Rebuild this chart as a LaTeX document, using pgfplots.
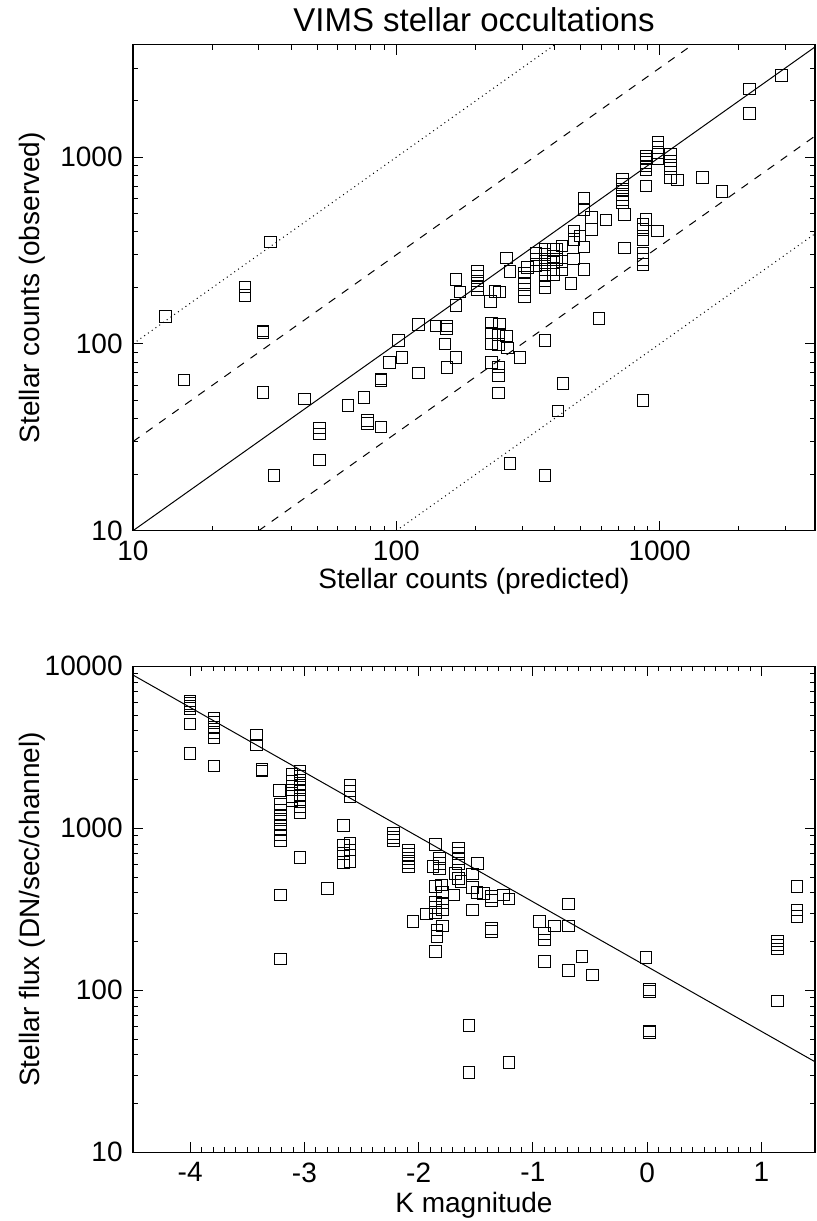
\documentclass[border=0pt]{standalone}
\usepackage{fontspec}
\setmainfont{Liberation Sans}
\usepackage{pgfplots}
\usepackage{pgfplotstable}
\pgfplotsset{compat=1.18}

\pgfplotstableread{
x y
13.3 140
15.6 64
26.6 202
26.6 182
31.2 117
31.2 115
31.2 55
33.3 351
34.3 19.8
44.9 50.7
51 35.4
51 33.0
51 23.9
65.6 46.8
75.4 51.7
77.8 38.8
77.8 37.5
87.5 35.9
87.5 64.9
87.5 63.5
94 79.6
102 104.5
105 84.7
121.6 127
121.6 69.9
141.6 125
155 125
155 120
153 100
168.5 84.7
155.6 74.9
168.5 160.6
174.6 190
168.5 221
203 245
203 231
203 217
203 204
203 195
228 169
246 190
237 191
230 129.6
246 128
230 114.6
244 112
262 110
230 100
244 99
265 95
230 79.6
244 75.2
244 67.9
244 54.6
262 289
270 245
306 240
306 226
306 212
306 195
306 180
315 256
339 307
339 283
339 261
367 320
367 301
367 283
367 266
367 250
367 235
367 217
367 200
395 320
395 293
395 272
395 250
395 235
406 320
406 283
425 334
425 277
425 250
461 210
473 402
499 378
473 363
470 285
516 330
516 250
516 600
516 525
552 474
552 410
625 460
589 137
367 104.5
295 84.7
430 61.5
411 43.7
863 49.8
270 22.9
367 19.8
724 760
724 716
724 673
724 633
724 593
724 570
734 494
734 327
887 1014
887 975
887 935
887 897
887 861
887 700
984 1197
984 1126
984 1058
984 975
1101 1037
1101 955
1101 869
1101 778
1166 755
1458 777
1725 654
887 464
863 436
863 410
981 402
863 363
863 307
863 283
863 266
2191 2312
2191 1714
2909 2727
}\counts

\pgfplotstableread{
k f
-4.0 6100
-4.0 5900
-4.0 5700
-4.0 5500
-4.0 4400
-4.0 2900
-3.79 4800
-3.79 4500
-3.79 4200
-3.79 3900
-3.79 3600
-3.79 2430
-3.42 3770
-3.42 3270
-3.37 2310
-3.37 2260
-3.22 1706
-3.21 1400
-3.21 1300
-3.21 1210
-3.21 1130
-3.21 1050
-3.21 980
-3.21 910
-3.21 840
-3.21 387
-3.21 156
-3.11 2140
-3.11 1940
-3.11 1720
-3.11 1570
-3.11 1470
-3.04 2250
-3.04 2100
-3.04 1990
-3.04 1850
-3.04 1720
-3.04 1600
-3.04 1500
-3.04 1360
-3.04 1240
-3.04 662
-2.60 1830
-2.60 1700
-2.60 1560
-2.66 1037
-2.66 790
-2.66 700
-2.66 614
-2.60 807
-2.60 735
-2.60 622
-2.80 426
-2.22 930
-2.22 880
-2.22 840
-2.09 733
-2.09 690
-2.09 650
-2.09 610
-2.09 576
-1.85 796
-1.82 653
-1.82 608
-1.82 566
-1.875 580
-1.65 754
-1.65 701
-1.65 653
-1.65 608
-1.68 527
-1.65 491
-1.63 468
-1.53 522
-1.53 432
-1.53 313
-1.485 605
-1.85 436
-1.80 446
-1.79 400
-1.69 387
-1.49 400
-1.43 397
-1.36 378
-1.36 357
-1.26 387
-1.21 367
-1.85 347
-1.85 325
-1.85 303
-1.79 345
-1.79 313
-1.93 296
-2.05 265
-1.84 236
-1.84 214
-1.79 249
-1.85 173
-1.36 241
-1.36 230
-0.94 265
-0.81 250
-0.69 250
-0.69 341
-0.90 225
-0.90 204
-0.90 150
-0.69 132
-0.57 161
-0.48 124
-0.01 159
0.02 101
0.02 98
0.02 56
0.02 55
-1.21 35.7
-1.56 60.5
-1.56 31.0
1.14 201
1.14 190
1.14 180
1.14 86
1.31 436
1.31 313
1.31 285
}\flux

\pgfplotsset{
  idl/.style={
    scale only axis, width=341pt, height=243pt,
    tick align=inside,
    major tick length=5pt, minor tick length=2.6pt,
    every tick/.style={black, line width=0.45pt},
    axis line style={line width=0.6pt},
    tick label style={font=\fontsize{14}{16}\selectfont, inner sep=0pt},
    xticklabel style={yshift=-5pt},
    yticklabel style={xshift=-5pt},
    every axis y label/.style={at={(axis description cs:-0.147,0.5)}, rotate=90, anchor=center, font=\fontsize{14}{16}\selectfont},
  },
  pts/.style={only marks, mark=square, mark size=2.9pt, mark options={line width=0.5pt, black}},
}

\begin{document}
\begin{tikzpicture}
\useasboundingbox (0,0) rectangle (408pt,610.5pt);

\begin{axis}[idl,
  at={(66.5pt,345.15pt)}, anchor=south west,
  xmode=log, ymode=log,
  xmin=10, xmax=3890, ymin=10, ymax=4000,
  xtick={10,100,1000}, xticklabels={10,100,1000},
  ytick={10,100,1000}, yticklabels={10,100,1000},
  minor xtick={20,30,40,50,60,70,80,90,200,300,400,500,600,700,800,900,2000,3000},
  minor ytick={20,30,40,50,60,70,80,90,200,300,400,500,600,700,800,900,2000,3000},
  xlabel={Stellar counts (predicted)},
  ylabel={Stellar counts (observed)},
  every axis x label/.style={at={(axis description cs:0.5,-0.105)}, anchor=center, font=\fontsize{14}{16}\selectfont},
  title={VIMS stellar occultations},
  every axis title/.style={at={(axis description cs:0.5,1.051)}, anchor=center, font=\fontsize{16.5}{19}\selectfont},
]
\addplot[black, line width=0.5pt] coordinates {(10,10) (4000,4000)};
\addplot[black, line width=0.5pt, dash pattern=on 4pt off 4pt] coordinates {(10,30) (4000,12000)};
\addplot[black, line width=0.5pt, dash pattern=on 4pt off 4pt] coordinates {(30,10) (12000,4000)};
\addplot[black, line width=0.5pt, dash pattern=on 0.5pt off 1.8pt] coordinates {(10,100) (1000,10000)};
\addplot[black, line width=0.5pt, dash pattern=on 0.5pt off 1.8pt] coordinates {(100,10) (40000,4000)};
\addplot[pts] table[x=x,y=y] {\counts};
\end{axis}

\begin{axis}[idl,
  at={(66.5pt,34.35pt)}, anchor=south west,
  ymode=log,
  xmin=-4.5, xmax=1.469, ymin=10, ymax=10000,
  xtick={-4,-3,-2,-1,0,1}, xticklabels={-4,-3,-2,-1,0,1},
  minor x tick num=9,
  ytick={10,100,1000,10000}, yticklabels={10,100,1000,10000},
  minor ytick={20,30,40,50,60,70,80,90,200,300,400,500,600,700,800,900,2000,3000,4000,5000,6000,7000,8000,9000},
  xlabel={K magnitude},
  ylabel={Stellar flux (DN/sec/channel)},
  every axis x label/.style={at={(axis description cs:0.5,-0.109)}, anchor=center, font=\fontsize{14}{16}\selectfont},
]
\addplot[black, line width=0.5pt] coordinates {(-4.5,8833) (1.5,35.2)};
\addplot[pts] table[x=k,y=f] {\flux};
\end{axis}
\end{tikzpicture}
\end{document}
